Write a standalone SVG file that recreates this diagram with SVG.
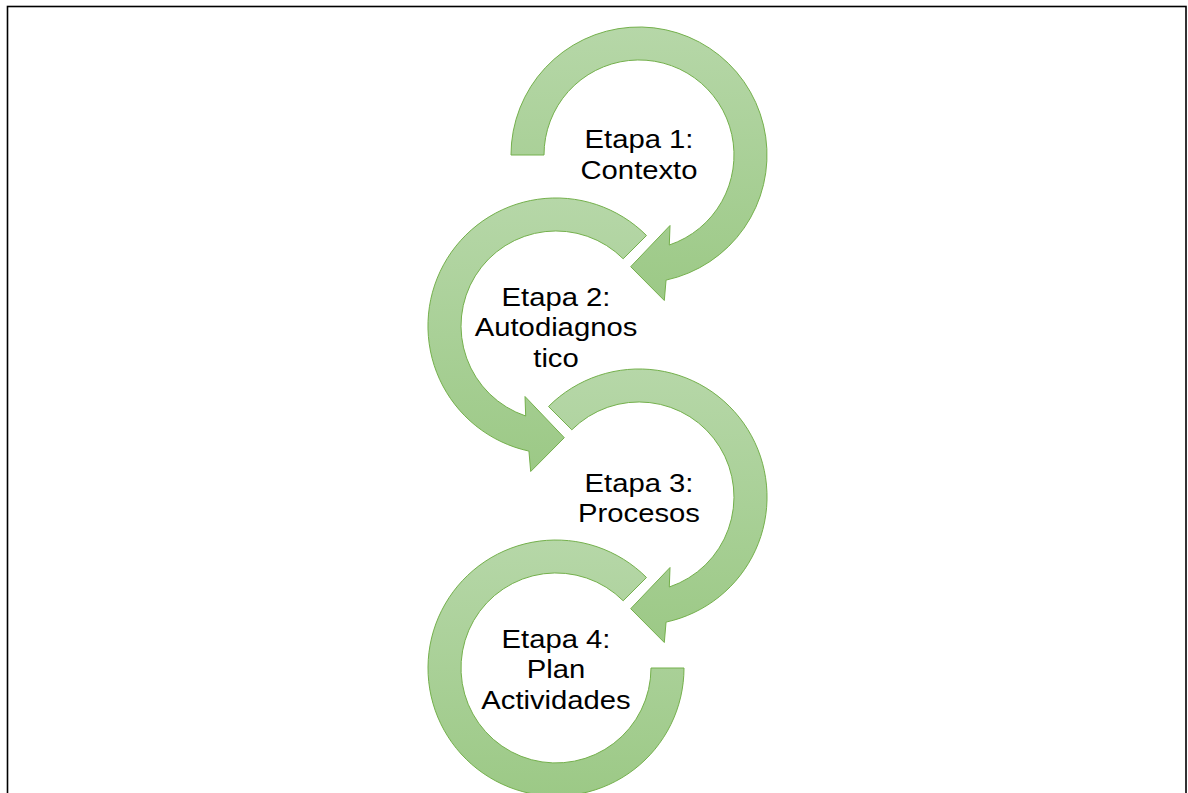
<svg xmlns="http://www.w3.org/2000/svg" width="1188" height="793" viewBox="0 0 1188 793">
  <style>
    .band { fill: url(#greenFade); stroke: #74b04c; stroke-width: 1; stroke-linejoin: miter; }
    .label { font-family: "Liberation Sans", Arial, sans-serif; font-size: 25px; fill: #000; text-anchor: middle; }
  </style>
  <defs>
    <linearGradient id="greenFade" x1="0" y1="0" x2="0" y2="1">
      <stop offset="0" stop-color="#b6d7a8"/>
      <stop offset="1" stop-color="#9cc986"/>
    </linearGradient>
    <!-- clockwise ring from the left side, ending in an arrowhead near the bottom -->
    <path id="ringFromLeft" d="M -95,0 L -128,0 A 128 128 0 1 1 27.05,125.1 L 25.3,145.5 L -8.3,111.7 L 31,70.5 L 30.3,90 A 95 95 0 1 0 -95,0 Z"/>
    <!-- same ring, starting at the upper left -->
    <path id="ringFromUpperLeft" d="M -67.2,-67.2 L -90.5,-90.5 A 128 128 0 1 1 27.05,125.1 L 25.3,145.5 L -8.3,111.7 L 31,70.5 L 30.3,90 A 95 95 0 1 0 -67.2,-67.2 Z"/>
  </defs>

  <rect id="frame" x="7.5" y="6.5" width="1178.5" height="800" fill="#fff" stroke="#000" stroke-width="1.6"/>

  <g id="connectors">
    <use id="arrow1" class="band" href="#ringFromLeft" transform="translate(639,155)"/>
    <use id="arrow2" class="band" href="#ringFromUpperLeft" transform="translate(556,326) scale(-1,1)"/>
    <use id="arrow3" class="band" href="#ringFromUpperLeft" transform="translate(639,497)"/>
    <path id="arrow4" class="band" transform="translate(556,668) scale(-1,1)" d="M -67.2,-67.2 L -90.5,-90.5 A 128 128 0 1 1 -128,0 L -95,0 A 95 95 0 1 0 -67.2,-67.2 Z"/>
  </g>

  <g id="stage1">
    <g transform="translate(639,0) scale(1.17,1)">
      <text class="label" x="0" y="148">Etapa 1:</text>
      <text class="label" x="0" y="179">Contexto</text>
    </g>
  </g>
  <g id="stage2">
    <g transform="translate(556,0) scale(1.17,1)">
      <text class="label" x="0" y="306">Etapa 2:</text>
      <text class="label" x="0" y="336.5">Autodiagnos</text>
      <text class="label" x="0" y="367">tico</text>
    </g>
  </g>
  <g id="stage3">
    <g transform="translate(639,0) scale(1.17,1)">
      <text class="label" x="0" y="492">Etapa 3:</text>
      <text class="label" x="0" y="522.5">Procesos</text>
    </g>
  </g>
  <g id="stage4">
    <g transform="translate(556,0) scale(1.17,1)">
      <text class="label" x="0" y="648">Etapa 4:</text>
      <text class="label" x="0" y="678.5">Plan</text>
      <text class="label" x="0" y="709">Actividades</text>
    </g>
  </g>
</svg>
